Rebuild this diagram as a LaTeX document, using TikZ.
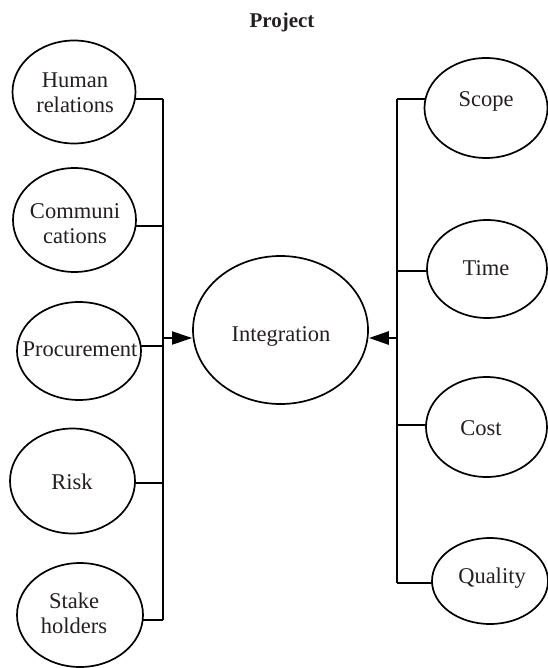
\documentclass[tikz,border=0pt]{standalone}
\usepackage{fontspec}
\setmainfont{Liberation Serif}
\usetikzlibrary{shapes.geometric,arrows.meta,backgrounds}
\definecolor{ink}{HTML}{231F20}
\tikzset{
  area/.style args={#1/#2}{ellipse, draw=black, fill=white, line width=1.7pt,
    inner sep=0pt, minimum width=#1pt, minimum height=#2pt},
  lbl/.style={font=\fontsize{22.5}{25}\selectfont, text=ink, align=center, inner sep=0pt},
  wire/.style={line width=1.8pt, draw=black},
  feed/.style={line width=1.8pt, draw=black, -{Triangle[length=20pt,width=13pt]}},
}
\begin{document}
\begin{tikzpicture}[x=1pt,y=-1pt]
\useasboundingbox (0,0) rectangle (547,668);

\node[font=\bfseries\fontsize{21}{25}\selectfont, text=ink, anchor=base] (title) at (282,28) {Project};

% left group
\node[area=123/103] (hr) at (74,92) {};
\node[lbl] (hrt) at (75,93) {Human\\relations};
\node[area=123/104] (com) at (74.5,220) {};
\node[lbl] (comt) at (75,224) {Communi\\cations};
\node[area=124/98] (proc) at (79,351) {};
\node[lbl] (proct) at (80,349) {Procurement};
\node[area=125/105] (risk) at (72.5,481) {};
\node[lbl] (riskt) at (72,482) {Risk};
\node[area=126/104] (stake) at (80,615) {};
\node[lbl] (staket) at (74,613) {Stake\\holders};

% centre
\node[area=175/148] (integ) at (280.5,330) {};
\node[lbl] (integt) at (281,336) {Integration};

% right group
\node[area=123/100] (scope) at (486,108) {};
\node[lbl] (scopet) at (486,101) {Scope};
\node[area=120/98] (time) at (487,269) {};
\node[lbl] (timet) at (486,268) {Time};
\node[area=121/100] (cost) at (486.5,427) {};
\node[lbl] (costt) at (481,428) {Cost};
\node[area=116/86] (qual) at (490,581) {};
\node[lbl] (qualt) at (492,578) {Quality};

% bus junctions
\coordinate (l1) at (163,99);
\coordinate (l2) at (163,226);
\coordinate (l3) at (163,346);
\coordinate (l4) at (163,483);
\coordinate (l5) at (163,620);
\coordinate (la) at (163,338);
\coordinate (r1) at (397,99);
\coordinate (r2) at (397,271);
\coordinate (r3) at (397,425);
\coordinate (r4) at (397,583);
\coordinate (ra) at (397,338);

\begin{scope}[on background layer]
  \draw[wire] (l1) -- (l5);
  \foreach \j/\n in {l1/hr, l2/com, l3/proc, l4/risk, l5/stake}
    \draw[wire] (\j) -- (\j -| \n.center);
  \draw[wire] (r1) -- (r4);
  \foreach \j/\n in {r1/scope, r2/time, r3/cost, r4/qual}
    \draw[wire] (\j) -- (\j -| \n.center);
\end{scope}

\draw[feed] (la) -- (la -| integ.west);
\draw[feed, line width=2.8pt] (ra) -- (ra -| integ.east);
\end{tikzpicture}
\end{document}
